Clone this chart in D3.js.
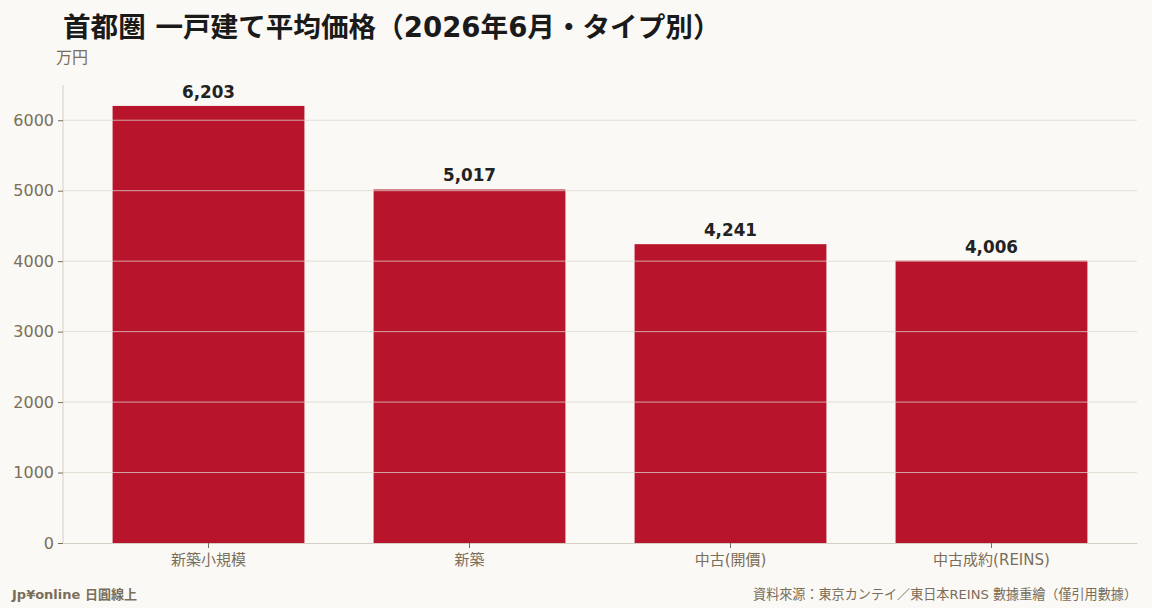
<!DOCTYPE html>
<html>
<head>
<meta charset="utf-8">
<script src="https://cdn.jsdelivr.net/npm/d3@7"></script>
<style>
  html, body { margin: 0; padding: 0; background: #faf9f5; }
  svg { display: block; font-family: "DejaVu Sans", "Noto Sans CJK JP", sans-serif; }
</style>
</head>
<body>
<div id="chart"></div>
<script>
// data
const categories = ["新築小規模", "新築", "中古(開價)", "中古成約(REINS)"];
const prices = [6203, 5017, 4241, 4006];
const yTicks = [0, 1000, 2000, 3000, 4000, 5000, 6000];

const W = 1152, H = 608;
const margin = {top: 85, right: 15, bottom: 65, left: 63};
const width = W - margin.left - margin.right;
const height = H - margin.top - margin.bottom;

const textCol = "#7a6e5a";
const barCol = "#b8142c";

const svg = d3.select("#chart").append("svg")
  .attr("width", W)
  .attr("height", H);

svg.append("rect").attr("width", W).attr("height", H).attr("fill", "#faf9f5");

// title
svg.append("text")
  .attr("x", 63).attr("y", 37)
  .style("font-size", "27.6px")
  .style("font-weight", "bold")
  .attr("fill", "#1a1a1a")
  .text("首都圏 一戸建て平均価格（2026年6月・タイプ別）");

svg.append("text")
  .attr("x", 56).attr("y", 63)
  .style("font-size", "16px")
  .attr("fill", textCol)
  .text("万円");

const g = svg.append("g")
  .attr("transform", "translate(" + margin.left + "," + margin.top + ")");

const x = d3.scaleBand()
  .domain(categories)
  .range([0, width])
  .paddingInner(0.265)
  .paddingOuter(0.19);

const y = d3.scaleLinear()
  .domain([0, 6500])
  .range([height, 0]);

// bars
g.selectAll(".bar")
  .data(prices)
  .enter().append("rect")
  .attr("class", "bar")
  .attr("fill", barCol)
  .attr("x", (d, i) => x(categories[i]))
  .attr("width", x.bandwidth())
  .attr("y", d => y(d))
  .attr("height", d => height - y(d));

// grid (drawn over bars, as in the original)
g.selectAll(".grid")
  .data(yTicks.filter(t => t > 0))
  .enter().append("line")
  .attr("class", "grid")
  .attr("x1", 0).attr("x2", width)
  .attr("y1", d => y(d)).attr("y2", d => y(d))
  .attr("stroke", "#ddd8cc")
  .attr("stroke-opacity", 0.75)
  .attr("stroke-width", 1);

// value labels
g.selectAll(".val")
  .data(prices)
  .enter().append("text")
  .attr("class", "val")
  .attr("x", (d, i) => x(categories[i]) + x.bandwidth() / 2)
  .attr("y", d => y(d) - 8)
  .attr("text-anchor", "middle")
  .style("font-size", "16.8px")
  .style("font-weight", "bold")
  .attr("fill", "#222")
  .text(d => d3.format(",")(d));

// axes
const yAxis = g.append("g")
  .call(d3.axisLeft(y).tickValues(yTicks).tickFormat(d3.format("d")).tickSize(5).tickPadding(4));
const xAxis = g.append("g")
  .attr("transform", "translate(0," + height + ")")
  .call(d3.axisBottom(x).tickSize(5).tickPadding(6).tickSizeOuter(0));

[yAxis, xAxis].forEach(a => {
  a.select(".domain").attr("stroke", "#d4cfc4");
  a.selectAll(".tick line").attr("stroke", textCol);
  a.selectAll(".tick text")
    .attr("fill", textCol)
    .style("font-size", "15px")
    .style("font-family", "\"DejaVu Sans\", \"Noto Sans CJK JP\", sans-serif");
});
yAxis.selectAll(".tick text").style("font-size", "16px");
yAxis.select(".domain").attr("d", "M0," + height + "V0");

// footer
svg.append("text")
  .attr("x", 12).attr("y", 599)
  .style("font-size", "13px")
  .style("font-weight", "bold")
  .attr("fill", textCol)
  .text("Jp¥online 日圓線上");

svg.append("text")
  .attr("x", 1137).attr("y", 599)
  .attr("text-anchor", "end")
  .style("font-size", "13.1px")
  .attr("fill", textCol)
  .text("資料來源：東京カンテイ／東日本REINS 數據重繪（僅引用數據）");
</script>
</body>
</html>
